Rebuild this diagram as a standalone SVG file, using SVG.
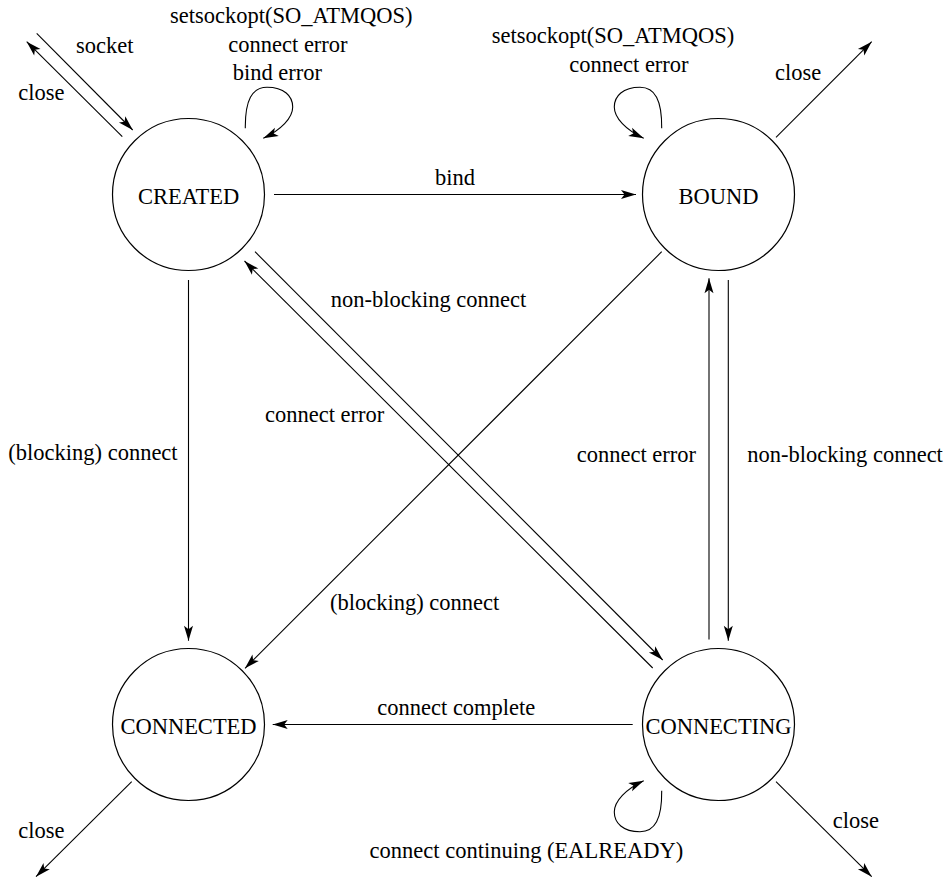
<svg xmlns="http://www.w3.org/2000/svg" width="948" height="878" viewBox="0 0 948 878">
<style>
text{font-family:"Liberation Serif","Times New Roman",serif;font-size:22.5px;fill:#000}
.st{fill:#fff;stroke:#000;stroke-width:1.2}
.nl{text-anchor:middle}
.e{fill:none;stroke:#000;stroke-width:1.1;marker-end:url(#ah)}
.p{fill:none;stroke:#000;stroke-width:1.1}
</style>
<defs>
<marker id="ah" markerWidth="16" markerHeight="10" refX="15" refY="5" orient="auto" markerUnits="userSpaceOnUse" viewBox="0 0 16 10" overflow="visible">
<path d="M0,0.5 L15,5 L0,9.5 L3.5,5 Z" fill="#000"/>
</marker>
</defs>
<rect width="948" height="878" fill="#fff"/>
<g id="connectors">
<line class="e" x1="36.7" y1="33.3" x2="132.7" y2="130"/>
<line class="e" x1="122.3" y1="136.7" x2="26.7" y2="41.7"/>
<path class="e" d="M245.3,128.3 C245,100 252,87.3 267,87.3 C284,87.3 292.7,96 292.7,107 C292.7,118 281,130 263.3,138.3"/>
<path class="e" d="M661.7,128.3 C662,100 655,87.3 640,87.3 C623,87.3 614.3,96 614.3,107 C614.3,118 626,130 643.7,138.3"/>
<path class="e" d="M661.7,790.7 C662,819 655,831.7 640,831.7 C623,831.7 614.3,823 614.3,812 C614.3,801 626,789 643.7,780.7"/>
<line class="e" x1="274" y1="194.5" x2="636" y2="194.5"/>
<line class="e" x1="776" y1="137.3" x2="871.7" y2="41.7"/>
<line class="e" x1="188.5" y1="280" x2="188.5" y2="640.7"/>
<line class="e" x1="661.7" y1="251.7" x2="245" y2="668.3"/>
<line class="e" x1="652.7" y1="668" x2="244.5" y2="261"/>
<line class="e" x1="255" y1="251.7" x2="662.7" y2="660"/>
<line class="e" x1="709" y1="639.5" x2="709" y2="278.3"/>
<line class="e" x1="728.3" y1="280" x2="728.3" y2="640.7"/>
<line class="e" x1="632.7" y1="724.5" x2="272.7" y2="724.5"/>
<line class="e" x1="131.7" y1="781.7" x2="36" y2="876.7"/>
<line class="e" x1="776" y1="781.7" x2="871.7" y2="876.7"/>
</g>
<g id="labels">
<text x="76" y="53">socket</text>
<text x="18.3" y="100">close</text>
<text x="170" y="23">setsockopt(SO_ATMQOS)</text>
<text x="228.3" y="52">connect error</text>
<text x="232.7" y="80">bind error</text>
<text x="491.7" y="43.3">setsockopt(SO_ATMQOS)</text>
<text x="569.3" y="71.5">connect error</text>
<text x="775" y="80">close</text>
<text x="435" y="185">bind</text>
<text x="330.7" y="306.7">non-blocking connect</text>
<text x="265" y="421.7">connect error</text>
<text x="8.3" y="460">(blocking) connect</text>
<text x="576.7" y="461.7">connect error</text>
<text x="747.3" y="461.7">non-blocking connect</text>
<text x="330" y="610">(blocking) connect</text>
<text x="377.3" y="715">connect complete</text>
<text x="18.3" y="838.3">close</text>
<text x="832.7" y="828.3">close</text>
<text x="369.6" y="858">connect continuing (EALREADY)</text>
</g>
<g id="CREATED">
<circle class="st" cx="188.5" cy="194.5" r="76"/>
<text class="nl" x="188.5" y="204">CREATED</text>
</g>
<g id="BOUND">
<circle class="st" cx="718.5" cy="194.5" r="76"/>
<text class="nl" x="718.5" y="204">BOUND</text>
</g>
<g id="CONNECTED">
<circle class="st" cx="188.5" cy="724.5" r="76"/>
<text class="nl" x="188.5" y="734">CONNECTED</text>
</g>
<g id="CONNECTING">
<circle class="st" cx="718.5" cy="724.5" r="76"/>
<text class="nl" x="718.5" y="734">CONNECTING</text>
</g>
</svg>
